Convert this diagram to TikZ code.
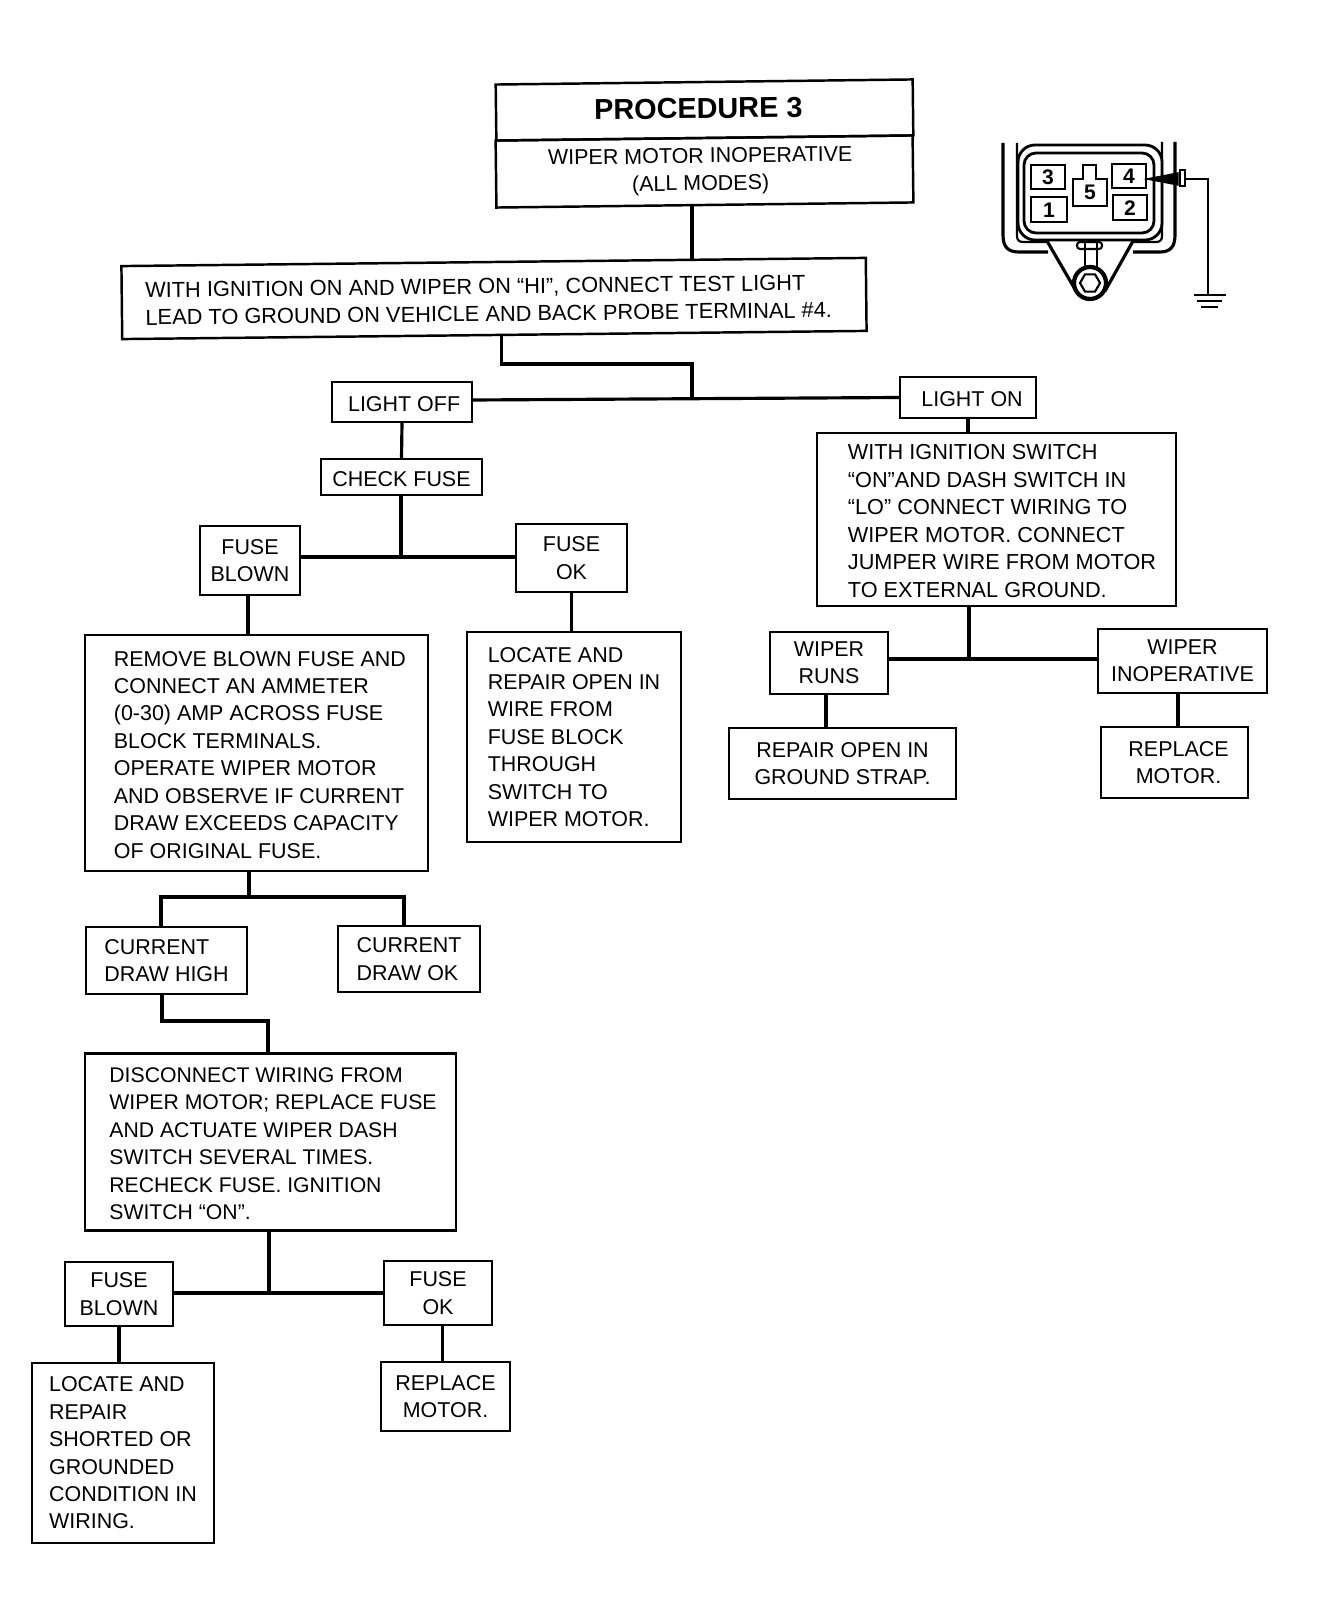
\documentclass[tikz,border=0pt]{standalone}
\usepackage{fontspec}
\setmainfont{Liberation Sans}
\usetikzlibrary{shapes.geometric}
\tikzset{flowbox/.style={draw, line width=0.7pt, inner sep=0pt, align=left, font=\fontsize{6.1}{7.8}\selectfont,
    execute at begin node={\rule{0pt}{5.2pt}}},
boxsize/.style 2 args={minimum width=#1*0.01cm, minimum height=#2*0.01cm},
leftset/.style 2 args={text width=#1, execute at begin node={\leftskip=#2\relax\spaceskip=0pt\relax}},
wire/.style={line width=0.9pt, line join=miter},
pinnum/.style={inner sep=0pt, font=\fontsize{6}{7}\selectfont\bfseries}}

\begin{document}
\begin{tikzpicture}[x=0.01cm, y=-0.01cm]
\useasboundingbox (0,0) rectangle (1328,1616);

% nodes
\node [flowbox, boxsize={417}{56}, rotate=0.7, text depth=1pt, font=\fontsize{8.2}{10}\selectfont\bfseries] (title) at (704.5,110) {PROCEDURE 3\hspace*{3.5pt}};
\node [flowbox, boxsize={417}{67}, rotate=0.7, align=center] (subtitle) at (704.5,171.5) {WIPER MOTOR INOPERATIVE\hspace*{2.3pt}\\(ALL MODES)\hspace*{2.3pt}};
\node [flowbox, boxsize={744}{73}, rotate=0.63, leftset={7.44cm}{0.235cm}, font=\fontsize{6.2}{7.8}\selectfont] (probe) at (494,298.5) {WITH IGNITION ON AND WIPER ON “HI”, CONNECT TEST LIGHT\\LEAD TO GROUND ON VEHICLE AND BACK PROBE TERMINAL \#4.};
\node [flowbox, boxsize={140}{40}] (lightoff) at (402,402) {\hspace*{1.2pt}LIGHT OFF};
\node [flowbox, boxsize={136}{41}] (lighton) at (968,397.5) {\hspace*{2.3pt}LIGHT ON};
\node [flowbox, boxsize={161}{36}] (checkfuse) at (401.5,477) {CHECK FUSE};
\node [flowbox, boxsize={100}{69}, align=center] (fuseblown) at (250,560.5) {FUSE\\BLOWN};
\node [flowbox, boxsize={111}{68}, align=center] (fuseok) at (571.5,558) {FUSE\\OK};
\node [flowbox, boxsize={343}{236}, leftset={3.43cm}{0.29cm}] (removefuse) at (256.5,753) {REMOVE BLOWN FUSE AND\\CONNECT AN AMMETER\\(0-30) AMP ACROSS FUSE\\BLOCK TERMINALS.\\OPERATE WIPER MOTOR\\AND OBSERVE IF CURRENT\\DRAW EXCEEDS CAPACITY\\OF ORIGINAL FUSE.};
\node [flowbox, boxsize={214}{210}] (locateopen) at (574,737) {LOCATE AND\\REPAIR OPEN IN\\WIRE FROM\\FUSE BLOCK\\THROUGH\\SWITCH TO\\WIPER MOTOR.};
\node [flowbox, boxsize={161}{67}] (drawhigh) at (166.5,960.5) {CURRENT\\DRAW HIGH};
\node [flowbox, boxsize={142}{66}] (drawok) at (409,959) {CURRENT\\DRAW OK};
\node [flowbox, boxsize={371}{177}, leftset={3.71cm}{0.245cm}, font=\fontsize{6.03}{7.8}\selectfont] (disconnect) at (270.5,1142) {DISCONNECT WIRING FROM\\WIPER MOTOR; REPLACE FUSE\\AND ACTUATE WIPER DASH\\SWITCH SEVERAL TIMES.\\RECHECK FUSE. IGNITION\\SWITCH “ON”.};
\node [flowbox, boxsize={108}{64}, align=center] (recheckblown) at (119,1294) {FUSE\\BLOWN};
\node [flowbox, boxsize={108}{64}, align=center] (recheckok) at (438,1293) {FUSE\\OK};
\node [flowbox, boxsize={182}{180}] (locateshort) at (123,1453) {LOCATE AND\\REPAIR\\SHORTED OR\\GROUNDED\\CONDITION IN\\WIRING.};
\node [flowbox, boxsize={129}{69}, align=center] (replacelow) at (445.5,1396.5) {REPLACE\\MOTOR.};
\node [flowbox, boxsize={359}{173}, leftset={3.59cm}{0.31cm}, font=\fontsize{6.17}{7.8}\selectfont] (jumper) at (996.5,519.5) {WITH IGNITION SWITCH\\“ON”AND DASH SWITCH IN\\“LO” CONNECT WIRING TO\\WIPER MOTOR. CONNECT\\JUMPER WIRE FROM MOTOR\\TO EXTERNAL GROUND.};
\node [flowbox, boxsize={118}{62}, align=center] (wiperruns) at (829,663) {WIPER\\RUNS};
\node [flowbox, boxsize={169}{64}, align=center] (wiperdead) at (1182.5,661) {WIPER\\INOPERATIVE};
\node [flowbox, boxsize={227}{71}, align=center] (groundstrap) at (842.5,763.5) {REPAIR OPEN IN\\GROUND STRAP.};
\node [flowbox, boxsize={147}{71}, align=center] (replacehigh) at (1174.5,762.5) {\hspace*{2.3pt}REPLACE\\\hspace*{2.3pt}MOTOR.};

% joins
\coordinate (lightjoin) at (692,400);
\coordinate (probetop) at (692,260);
\coordinate (probedrop) at (501.5,364);
\coordinate (fusejoin) at (401,557);
\coordinate (removedrop) at (248,615);
\coordinate (currentbar) at (249,897);
\coordinate (highdrop) at (161,897);
\coordinate (okdrop) at (404,897);
\coordinate (highelbow) at (162,1021);
\coordinate (discelbow) at (268,1021);
\coordinate (recheckjoin) at (269,1293);
\coordinate (replacedrop) at (442.5,1345);
\coordinate (wiperjoin) at (969,659);
\coordinate (strapdrop) at (826,711);
\coordinate (motordrop) at (1178,711);

% edges
\draw [wire] (subtitle.south -| lightjoin) to (probetop);
\draw [wire] (probe.south -| probedrop) -- (probedrop) -- (probedrop -| lightjoin) -- (lightjoin);
\draw [wire] (lightoff.east |- lightjoin) to (lighton.west);
\draw [wire] (lightoff.south) to (checkfuse.north);
\draw [wire] (checkfuse.south -| fusejoin) to (fusejoin);
\draw [wire] (fuseblown.east |- fusejoin) to (fuseok.west |- fusejoin);
\draw [wire] (fuseblown.south -| removedrop) to (removefuse.north -| removedrop);
\draw [wire] (fuseok.south) to (locateopen.north -| fuseok.south);
\draw [wire] (removefuse.south -| currentbar) to (currentbar);
\draw [wire] (drawhigh.north -| highdrop) -- (highdrop) -- (okdrop) -- (drawok.north -| okdrop);
\draw [wire] (drawhigh.south -| highelbow) -- (highelbow) -- (discelbow) -- (disconnect.north -| discelbow);
\draw [wire] (disconnect.south -| recheckjoin) to (recheckjoin);
\draw [wire] (recheckblown.east |- recheckjoin) to (recheckok.west |- recheckjoin);
\draw [wire] (recheckblown.south) to (locateshort.north -| recheckblown.south);
\draw [wire] (recheckok.south -| replacedrop) to (replacelow.north -| replacedrop);
\draw [wire] (lighton.south) to (jumper.north -| lighton.south);
\draw [wire] (jumper.south -| wiperjoin) to (wiperjoin);
\draw [wire] (wiperruns.east |- wiperjoin) to (wiperdead.west |- wiperjoin);
\draw [wire] (wiperruns.south -| strapdrop) to (groundstrap.north -| strapdrop);
\draw [wire] (wiperdead.south -| motordrop) to (replacehigh.north -| motordrop);

% connector
\draw [line width=0.9pt] (1003,143) -- (1003,235) .. controls (1003,247) and (1008,252) .. (1019,252) -- (1048,252);
\draw [line width=0.9pt] (1175,142) -- (1175,235) .. controls (1175,247) and (1170,252) .. (1160,252) -- (1133,252);
\draw [line width=0.6pt] (1017,143) -- (1017,236) .. controls (1017,240) and (1019,242) .. (1023,242) -- (1047,242);
\draw [line width=0.6pt] (1162,142) -- (1162,236) .. controls (1162,240) and (1160,242) .. (1156,242) -- (1133,242);
\draw [fill=white, line width=0.8pt, rounded corners=0.17cm] (1018,145) rectangle (1162,240);
\draw [line width=0.8pt, rounded corners=0.12cm] (1024,153) rectangle (1154,233);
\draw [line width=0.8pt] (1031,165) rectangle (1065,189);
\draw [line width=0.8pt] (1031,197) rectangle (1067,222);
\draw [line width=0.8pt] (1112,164) rectangle (1146,188);
\draw [line width=0.8pt] (1113,195) rectangle (1147,220);
\draw [line width=0.8pt] (1073,206) -- (1073,179) -- (1083,179) -- (1083,165) -- (1096,165) -- (1096,179) -- (1107,179) -- (1107,206) -- cycle;
\node [pinnum] (pinthree) at (1048,177) {3};
\node [pinnum] (pinone) at (1049,210) {1};
\node [pinnum] (pinfour) at (1129,176) {4};
\node [pinnum] (pintwo) at (1130,208) {2};
\node [pinnum] (pinfive) at (1090,192) {5};
\draw [line width=0.9pt] (1047,241) -- (1076,291) (1133,241) -- (1105,291);
\draw [line width=0.6pt, rounded corners=0.03cm] (1077,242) rectangle (1102,249);
\draw [line width=0.8pt] (1085,241) -- (1085,269) (1097,241) -- (1097,269);
\draw [fill=white, line width=1.2pt] (1090,283) circle (16);
\node [draw, line width=0.6pt, regular polygon, regular polygon sides=6, minimum size=0.2cm, inner sep=0pt] (hexnut) at (1090,283) {};

% probe and ground
\draw [fill=black] (1147,179) -- (1178,173) -- (1178,185) -- cycle;
\draw [line width=0.6pt] (1180,170) rectangle (1185,186);
\draw [line width=0.5pt] (1185,179) -- (1208,179) -- (1208,295);
\draw [line width=0.6pt] (1194,295) -- (1226,295) (1197,301) -- (1222,301) (1201,307) -- (1218,307);
\end{tikzpicture}
\end{document}
